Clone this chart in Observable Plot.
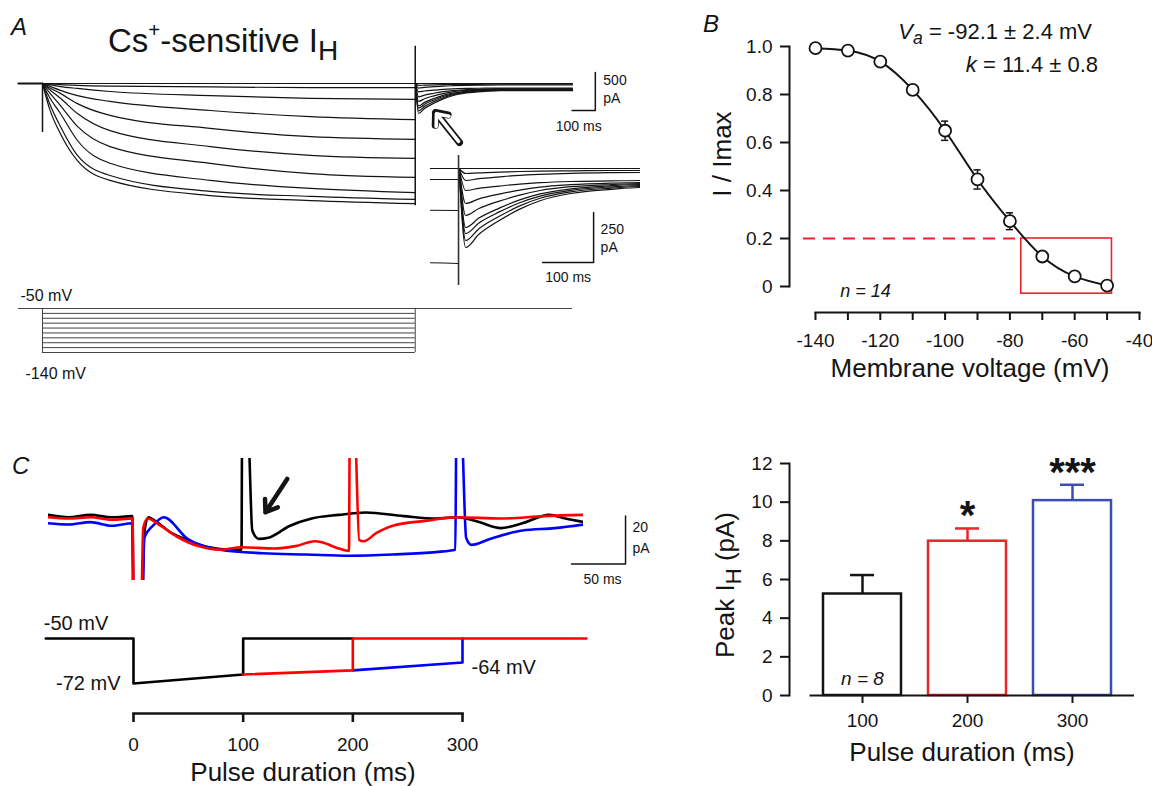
<!DOCTYPE html>
<html><head><meta charset="utf-8">
<script src="https://cdn.jsdelivr.net/npm/d3@7"></script>
<script src="https://cdn.jsdelivr.net/npm/@observablehq/plot@0.6"></script>
<style>
body{margin:0;background:#fff;}
#fig{position:relative;width:1152px;height:786px;overflow:hidden;font-family:"Liberation Sans",Arial,Helvetica,sans-serif;color:#141414;background:#fff;}
.lab{position:absolute;white-space:nowrap;line-height:1;}
.sup{font-size:.62em;position:relative;top:-.75em;}
.sub{font-size:.85em;position:relative;top:.3em;}
.suba{font-size:.8em;position:relative;top:.3em;}
</style></head><body><div id="fig"></div>
<script>
// ---------------- Panel A : Cs+-sensitive IH family (time ms, current pA) ----------------
const aHoldTimes = [-103, 0];
const aHoldCurrent = [0, 0];
const aStepTimes = [0, 30, 77, 150, 290, 720, 1150, 1600];
const aStepCurrents = [
  [0, 0, 0, 0, 0, 0, 0, 0],
  [0, -5, -15, -25, -35, -45, -55, -55],
  [0, -15, -40, -65, -105, -160, -195, -210],
  [0, -35, -90, -160, -235, -355, -435, -475],
  [0, -55, -130, -265, -420, -590, -700, -735],
  [0, -80, -195, -395, -620, -830, -945, -985],
  [0, -120, -290, -565, -830, -1050, -1185, -1235],
  [0, -180, -395, -750, -1050, -1275, -1380, -1435],
  [0, -260, -565, -945, -1210, -1420, -1485, -1525],
  [0, -330, -660, -1015, -1275, -1475, -1540, -1580]
];
const aTailTimes = [1601, 1614, 1640, 1680, 1720, 1760, 1820, 1900, 1960, 2275];
const aTailCurrents = [
  [0, 0, 0, 0, 0, 0, 0, 0, 0, 0],
  [0, -25, -22, -18, -15, -13, -12, -10, -10, -10],
  [0, -60, -51, -42, -34, -29, -24, -21, -20, -20],
  [0, -110, -99, -88, -78, -71, -65, -62, -60, -60],
  [0, -175, -152, -128, -108, -93, -81, -73, -70, -70],
  [0, -235, -200, -163, -133, -110, -91, -80, -75, -75],
  [0, -295, -248, -198, -157, -127, -102, -86, -80, -80],
  [0, -325, -272, -217, -171, -138, -109, -92, -85, -85],
  [0, -360, -301, -239, -187, -149, -117, -98, -90, -90],
  [0, -395, -329, -260, -203, -161, -125, -104, -95, -95]
];
const aArtifactTimes = [0, 1600];
const aArtifactTop = [0, 490];
const aArtifactBottom = [-645, -1610];
const aScaleMs = [2273, 2373];          // 100 ms
const aScalePa = [-355, 145];           // 500 pA
const aInsetScaleMs = [1765, 1865];     // 100 ms
const aInsetScalePa = [-470, -220];     // 250 pA
const aArrowFrom = [1790, -776];
const aArrowTo = [1687, -382];
// voltage protocol
const aHolding = -50;
const aStepLevels = [-60, -70, -80, -90, -100, -110, -120, -130, -140];
const aStepOn = 0, aStepOff = 1600;
const aSweepStart = -103, aSweepEnd = 2275;

// ---------------- Panel B : activation curve ----------------
const bVoltage = [-140, -130, -120, -110, -100, -90, -80, -70, -60, -50];
const bNorm = [0.993, 0.983, 0.937, 0.819, 0.649, 0.446, 0.272, 0.125, 0.042, 0.004];
const bSem = [0.005, 0.005, 0.01, 0.02, 0.04, 0.04, 0.035, 0.01, 0.01, 0.01];
const bThreshold = 0.2;
const bDashFrom = -143.7;
const bWindow = {v1: -76.5, v2: -48.5, lo: -0.03, hi: 0.2};
const bYTicks = [0, 0.2, 0.4, 0.6, 0.8, 1.0];
const bXTicks = [-140, -130, -120, -110, -100, -90, -80, -70, -60, -50, -40];
const bN = {v: -124.6, r: -0.02, text: "n = 14"};

// ---------------- Panel C : traces (time ms, current pA) ----------------
const cBlack = [[-79,1.5],[-60,0.5],[-40,1.5],[-20,0.5],[-1,1],[0,-40],[7.5,-40],[10,-6],[14,0.5],[20,-1],[35,-6],[50,-9],[70,-12],[90,-13],[100,-13],[100.6,40],[105.8,40],[110,-5],[116,-8.5],[125,-8],[145,-3],[165,0],[190,1.5],[215,2.5],[250,1],[280,0],[300,0.5],[320,-1.5],[340,-4],[360,-2],[385,1.5],[400,0],[417,-1.5]];
const cRed = [[-79,0.5],[-60,0],[-40,0.5],[-20,-0.5],[-1,0],[0.5,-40],[7,-40],[9,-4],[13,0],[25,-3],[40,-7.5],[60,-11.5],[80,-13],[100,-12],[130,-12.5],[150,-11.5],[168,-9.5],[175,-10],[190,-12.5],[199.5,-13.5],[200.3,40],[204.6,40],[209,-9],[213,-9.5],[225,-6],[240,-3],[270,-1],[300,0.5],[340,0],[380,1],[417,1.5]];
const cBlue = [[-79,-2],[-60,-2.5],[-40,-1.5],[-20,-3],[-1,-2],[0,-40],[8,-40],[10,-8],[18,-3],[28,0.5],[50,-8.5],[80,-13],[120,-14.5],[160,-15],[200,-15.5],[240,-15],[280,-14],[298,-13],[299,40],[303.4,40],[308,-8],[313,-11],[330,-8.5],[360,-5],[390,-4],[417,-2.5]];
const cScaleMs = [405.6, 455.6];   // 50 ms
const cScalePa = [-19, 1];         // 20 pA
const cArrowFrom = [142.3, 16.5];
const cArrowTo = [122.2, 2.6];
// protocol (time ms, mV)
const cProtoBlack = [[-80,-50],[0,-50],[0,-72],[100,-67.6],[100,-50],[200,-50]];
const cProtoRed = [[100,-67.6],[200,-65.6],[200,-50],[413,-50]];
const cProtoBlue = [[200,-65.6],[300,-61.7],[300,-50]];
const cDurTicks = [0, 100, 200, 300];

// ---------------- Panel C : bar chart ----------------
const cDurations = [100, 200, 300];
const cPeak = [5.25, 7.98, 10.08];
const cPeakSem = [0.98, 0.66, 0.82];
const cSig = ["", "*", "***"];
const cN = "n = 8";
const cYTicks = [0, 2, 4, 6, 8, 10, 12];

// ================= drawing =================
const RED = "#e8262b", BLUE = "#3b4db3", INK = "#141414";
const cColors = [INK, RED, BLUE];
const FONT = '"Liberation Sans", Arial, Helvetica, sans-serif';
const fig = document.getElementById("fig");
const W = 1152, H = 786;
function box(l, t, r, b) { return {width: W, height: H, marginLeft: l, marginTop: t, marginRight: W - r, marginBottom: H - b}; }
function add(opts) {
  const svg = Plot.plot({...opts, style: {background: "transparent", fontFamily: FONT, fontSize: "19px", color: INK, overflow: "visible"}});
  svg.style.position = "absolute"; svg.style.left = "0px"; svg.style.top = "0px";
  fig.appendChild(svg);
}
function label(html, x, y, o = {}) {
  const d = document.createElement("div");
  d.className = "lab"; d.innerHTML = html;
  d.style.left = x + "px"; d.style.top = y + "px"; d.style.fontSize = (o.size || 20) + "px";
  const a = o.anchor || "middle";
  let tr = a === "middle" ? "translate(-50%,-50%)" : a === "end" ? "translate(-100%,-50%)" : "translate(0,-50%)";
  if (o.rotate) tr += ` rotate(${o.rotate}deg)`;
  d.style.transform = tr;
  if (o.italic) d.style.fontStyle = "italic";
  fig.appendChild(d);
}

// Panel A rows
const aStepRows = aStepCurrents.flatMap((v, k) => aStepTimes.map((t, j) => ({sweep: k, t, i: v[j]})));
const aTailRows = aTailCurrents.flatMap((v, k) => aTailTimes.map((t, j) => ({sweep: k, t, i: v[j]})));
const aHoldRows = aHoldTimes.map((t, j) => ({t, i: aHoldCurrent[j]}));
const aArtifacts = aArtifactTimes.map((t, j) => ({t, top: aArtifactTop[j], bottom: aArtifactBottom[j]}));
const aBar = [{t: aScaleMs[0], i: aScalePa[0]}, {t: aScaleMs[1], i: aScalePa[0]}, {t: aScaleMs[1], i: aScalePa[1]}];
const aInsetBar = [{t: aInsetScaleMs[0], i: aInsetScalePa[0]}, {t: aInsetScaleMs[1], i: aInsetScalePa[0]}, {t: aInsetScaleMs[1], i: aInsetScalePa[1]}];
const aArrow = [{x1: aArrowFrom[0], y1: aArrowFrom[1], x2: aArrowTo[0], y2: aArrowTo[1]}];
const traceOpts = {x: "t", y: "i", z: "sweep", curve: "monotone-x", stroke: INK, strokeWidth: 1.2};

// A main traces
add({...box(18, 45, 572, 205),
  x: {domain: [aSweepStart, aSweepEnd], axis: null},
  y: {domain: [-1600, 500], range: [204.6, 45], axis: null},
  marks: [
    Plot.line(aHoldRows, {x: "t", y: "i", stroke: INK, strokeWidth: 2.2}),
    Plot.line(aStepRows, traceOpts),
    Plot.line(aTailRows, traceOpts),
    Plot.ruleX(aArtifacts, {x: "t", y1: "top", y2: "bottom", stroke: INK, strokeWidth: 1.5}),
    Plot.line(aBar, {x: "t", y: "i", stroke: INK, strokeWidth: 1.5}),
    Plot.text(["500"], {x: aScaleMs[1], y: aScalePa[1], dx: 8, dy: 8, textAnchor: "start", fontSize: 14}),
    Plot.text(["pA"], {x: aScaleMs[1], y: aScalePa[1], dx: 8, dy: 26, textAnchor: "start", fontSize: 14}),
    Plot.text(["100 ms"], {x: (aScaleMs[0] + aScaleMs[1]) / 2, y: aScalePa[0], dx: -5, dy: 16, fontSize: 14}),
    Plot.arrow(aArrow, {x1: "x1", y1: "y1", x2: "x2", y2: "y2", stroke: INK, strokeWidth: 7, headLength: 15, headAngle: 80}),
    Plot.arrow(aArrow, {x1: "x1", y1: "y1", x2: "x2", y2: "y2", stroke: "white", strokeWidth: 3.6, headLength: 15, headAngle: 80, insetStart: 1.5, insetEnd: 1.5})
  ]});

// A inset
add({...box(430, 155, 640, 285),
  x: {domain: [1545, 1957], axis: null},
  y: {domain: [-585, 65], axis: null},
  marks: [
    Plot.line(aStepRows, {...traceOpts, clip: true}),
    Plot.line(aTailRows, {...traceOpts, clip: true}),
    Plot.ruleX([aArtifactTimes[1]], {stroke: "#333", strokeWidth: 1.6}),
    Plot.line(aInsetBar, {x: "t", y: "i", stroke: INK, strokeWidth: 1.5}),
    Plot.text(["250"], {x: aInsetScaleMs[1], y: aInsetScalePa[1], dx: 7, dy: 17, textAnchor: "start", fontSize: 14}),
    Plot.text(["pA"], {x: aInsetScaleMs[1], y: aInsetScalePa[1], dx: 7, dy: 35, textAnchor: "start", fontSize: 14}),
    Plot.text(["100 ms"], {x: (aInsetScaleMs[0] + aInsetScaleMs[1]) / 2, y: aInsetScalePa[0], dy: 15, fontSize: 14})
  ]});

// A voltage protocol
add({...box(18, 300, 572, 360),
  x: {domain: [aSweepStart, aSweepEnd], axis: null},
  y: {domain: [-140, -50], range: [352, 308], axis: null},
  marks: [
    Plot.ruleY([aHolding], {x1: aSweepStart, x2: aSweepEnd, stroke: "#444", strokeWidth: 1.2}),
    Plot.ruleY(aStepLevels, {x1: aStepOn, x2: aStepOff, stroke: "#444", strokeWidth: 1}),
    Plot.ruleX([aStepOn, aStepOff], {y1: aHolding, y2: d3.min(aStepLevels), stroke: "#444", strokeWidth: 1}),
    Plot.text(["-50 mV"], {x: aSweepStart, y: aHolding, dx: 2, dy: -13, textAnchor: "start", fontSize: 16}),
    Plot.text(["-140 mV"], {x: aSweepStart, y: d3.min(aStepLevels), dx: 7, dy: 21, textAnchor: "start", fontSize: 16})
  ]});

// Panel B
const bRows = bVoltage.map((v, j) => ({v, r: bNorm[j], e: bSem[j]}));
add({...box(789, 46, 1139, 312),
  x: {domain: [-140, -40], range: [815, 1139]},
  y: {domain: [0, 1], range: [286, 46]},
  marks: [
    Plot.frame({anchor: "left", insetBottom: 26, strokeWidth: 2}),
    Plot.frame({anchor: "bottom", insetLeft: 26, strokeWidth: 2}),
    Plot.axisY({ticks: bYTicks, tickFormat: d => d === 0 ? "0" : d.toFixed(1), tickSize: 9, tickPadding: 8, strokeWidth: 2, fontSize: 19, label: null}),
    Plot.axisX({ticks: bXTicks, tickFormat: d => d % 20 === 0 ? String(d) : "", tickSize: 8, tickPadding: 13, strokeWidth: 2, fontSize: 19, label: null}),
    Plot.ruleY([bThreshold], {x1: bDashFrom, x2: bWindow.v1, stroke: RED, strokeWidth: 2, strokeDasharray: "12,8"}),
    Plot.rect([bWindow], {x1: "v1", x2: "v2", y1: "lo", y2: "hi", fill: "none", stroke: RED, strokeWidth: 1.6}),
    Plot.line(bRows, {x: "v", y: "r", curve: "natural", stroke: INK, strokeWidth: 2}),
    Plot.ruleX(bRows, {x: "v", y1: d => d.r - d.e, y2: d => d.r + d.e, stroke: INK, strokeWidth: 1.5}),
    Plot.ruleY(bRows, {y: d => d.r - d.e, x1: d => d.v - 1.1, x2: d => d.v + 1.1, stroke: INK, strokeWidth: 1.5}),
    Plot.ruleY(bRows, {y: d => d.r + d.e, x1: d => d.v - 1.1, x2: d => d.v + 1.1, stroke: INK, strokeWidth: 1.5}),
    Plot.dot(bRows, {x: "v", y: "r", r: 6, fill: "white", stroke: INK, strokeWidth: 1.8}),
    Plot.text([bN], {x: "v", y: "r", text: "text", fontStyle: "italic", fontSize: 18})
  ]});

// Panel C traces
const toRows = (arr, name) => arr.map(([t, i]) => ({t, i, name}));
const cRows = [...toRows(cBlack, "black"), ...toRows(cBlue, "blue"), ...toRows(cRed, "red")];
const cBar = [{t: cScaleMs[0], i: cScalePa[0]}, {t: cScaleMs[1], i: cScalePa[0]}, {t: cScaleMs[1], i: cScalePa[1]}];
add({...box(48, 458, 583, 580),
  x: {domain: [0, 300], range: [133, 457], axis: null},
  y: {domain: [0, 20], range: [518, 470], axis: null},
  color: {domain: ["black", "red", "blue"], range: [INK, RED, BLUE]},
  marks: [
    Plot.line(cRows, {x: "t", y: "i", z: "name", stroke: "name", curve: "monotone-x", strokeWidth: 2.6, clip: true}),
    Plot.line(cBar, {x: "t", y: "i", stroke: INK, strokeWidth: 1.5}),
    Plot.text(["20"], {x: cScaleMs[1], y: cScalePa[1], dx: 7, dy: 11, textAnchor: "start", fontSize: 14}),
    Plot.text(["pA"], {x: cScaleMs[1], y: cScalePa[1], dx: 7, dy: 32, textAnchor: "start", fontSize: 14}),
    Plot.text(["50 ms"], {x: (cScaleMs[0] + cScaleMs[1]) / 2, y: cScalePa[0], dx: 4, dy: 15, fontSize: 14}),
    Plot.arrow([{x1: cArrowFrom[0], y1: cArrowFrom[1], x2: cArrowTo[0], y2: cArrowTo[1]}], {x1: "x1", y1: "y1", x2: "x2", y2: "y2", stroke: INK, strokeWidth: 4.5, headLength: 13, headAngle: 70})
  ]});

// Panel C protocol
const pRows = [...toRows(cProtoBlack, "black"), ...toRows(cProtoBlue, "blue"), ...toRows(cProtoRed, "red")];
add({...box(48, 600, 586, 713),
  x: {domain: [0, 300], range: [133, 462]},
  y: {domain: [-72, -50], range: [683, 638], axis: null},
  color: {domain: ["black", "red", "blue"], range: [INK, RED, BLUE]},
  marks: [
    Plot.line(pRows, {x: "t", y: "i", z: "name", stroke: "name", strokeWidth: 2.6}),
    Plot.frame({anchor: "bottom", insetLeft: 85, insetRight: 124, strokeWidth: 2.6}),
    Plot.axisX({ticks: cDurTicks, tickFormat: String, tickSize: 9, tickPadding: 15, strokeWidth: 2.6, fontSize: 19, label: null}),
    Plot.text(["-50 mV"], {x: -80, y: -50, dx: -2, dy: -15, textAnchor: "start", fontSize: 20}),
    Plot.text(["-72 mV"], {x: 0, y: -72, dx: -13, textAnchor: "end", fontSize: 20}),
    Plot.text(["-64 mV"], {x: 300, y: -64, dx: 9, textAnchor: "start", fontSize: 20})
  ]});

// Panel C bar chart
const bars = cDurations.map((d, j) => ({duration: d, mean: cPeak[j], sem: cPeakSem[j], sig: cSig[j], color: cColors[j]}));
add({...box(789, 463, 1138.5, 695),
  x: {type: "band", domain: cDurations, range: [794.6, 1138.5], padding: 0.26},
  y: {domain: [0, 12]},
  color: {type: "identity"},
  marks: [
    Plot.frame({anchor: "left", strokeWidth: 2}),
    Plot.axisY({ticks: cYTicks, tickFormat: String, tickSize: 9, tickPadding: 8, strokeWidth: 2, fontSize: 19, label: null}),
    Plot.barY(bars, {x: "duration", y: "mean", fill: "white", stroke: "color", strokeWidth: 2.5}),
    Plot.ruleX(bars, {x: "duration", y1: "mean", y2: d => d.mean + d.sem, stroke: "color", strokeWidth: 2.5}),
    Plot.tickY(bars, {x: "duration", y: d => d.mean + d.sem, stroke: "color", strokeWidth: 2.5, inset: 27}),
    Plot.text(bars, {x: "duration", y: d => d.mean + d.sem, text: "sig", dy: -12, fontSize: 40, fontWeight: "bold"}),
    Plot.text([bars[0]], {x: "duration", y: 0, text: () => cN, dy: -17, fontStyle: "italic", fontSize: 19}),
    Plot.frame({anchor: "bottom", insetLeft: 21, insetRight: 6, strokeWidth: 2}),
    Plot.axisX({tickSize: 8, tickPadding: 10, strokeWidth: 2, fontSize: 19, label: null, tickFormat: String})
  ]});

// HTML text (titles, rich labels)
label("A", 11, 27, {anchor: "start", italic: true, size: 24});
label('Cs<span class="sup">+</span>-sensitive I<span class="sub">H</span>', 108, 41, {anchor: "start", size: 33});
label("B", 703, 24, {anchor: "start", italic: true, size: 24});
label('<i>V<span class="suba">a</span></i> = -92.1 ± 2.4 mV', 1092, 32, {anchor: "end", size: 22});
label('<i>k</i> = 11.4 ± 0.8', 1098, 65, {anchor: "end", size: 22});
label("I / Imax", 722, 154, {rotate: -90, size: 26});
label("Membrane voltage (mV)", 970, 368, {size: 26});
label("C", 12, 466, {anchor: "start", italic: true, size: 24});
label('Peak I<span class="sub">H</span> (pA)', 725, 585, {rotate: -90, size: 26});
label("Pulse duration (ms)", 962, 752, {size: 26});
label("Pulse duration (ms)", 303, 772, {size: 26});
</script></body></html>
